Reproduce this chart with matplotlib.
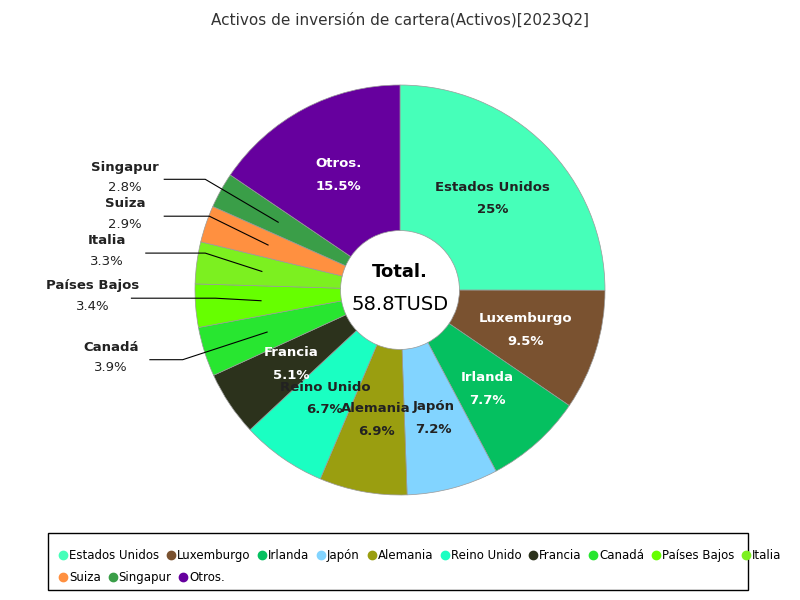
import matplotlib
matplotlib.use("Agg")
import matplotlib.pyplot as plt
import numpy as np
from matplotlib.lines import Line2D
from matplotlib.patches import Rectangle

categories = ["Estados Unidos", "Luxemburgo", "Irlanda", "Japón", "Alemania", "Reino Unido",
              "Francia", "Canadá", "Países Bajos", "Italia", "Suiza", "Singapur", "Otros."]
values = [25, 9.5, 7.7, 7.2, 6.9, 6.7, 5.1, 3.9, 3.4, 3.3, 2.9, 2.8, 15.5]
colors = ["#46ffb9", "#7a5230", "#05c060", "#82d4ff", "#9a9e10", "#1affc2", "#2c321c",
          "#28e630", "#66ff00", "#7cf020", "#ff9040", "#3a9e48", "#66009e"]
text_colors = ["#222", "white", "white", "#222", "#222", "#222", "white",
               None, None, None, None, None, "white"]
total_label = "58.8TUSD"
title = "Activos de inversión de cartera(Activos)[2023Q2]"

fig = plt.figure(figsize=(8, 6), dpi=100)
fig.text(0.5, 1 - 20/600, title, ha="center", va="center", fontsize=11, color="#333")
ax = fig.add_axes([400/800 - 205/800, 1 - (290 + 205)/600, 410/800, 410/600])
wedges, _ = ax.pie(values, colors=colors, startangle=90, counterclock=False, radius=1,
                   wedgeprops=dict(width=0.71, edgecolor="#999", linewidth=0.5))
ax.set_xlim(-1, 1); ax.set_ylim(-1, 1); ax.set_aspect("equal"); ax.axis("off")

# outside label layout: (text x, text y, elbow x) in data coords
outside = {11: (-1.34, 0.55, -0.95), 10: (-1.34, 0.37, -0.93), 9: (-1.43, 0.19, -0.95),
           8: (-1.50, -0.03, -0.90), 7: (-1.41, -0.33, -1.06)}
for i, w in enumerate(wedges):
    ang = np.deg2rad((w.theta1 + w.theta2) / 2)
    pct = f"{values[i]:g}%"
    if i in outside:
        tx, ty, ex = outside[i]
        r = 0.68
        px, py = r*np.cos(ang), r*np.sin(ang)
        ly = ty - 0.01
        ax.plot([tx + 0.19, ex, px], [ly, ly, py], color="black", lw=0.8, clip_on=False)
        ax.text(tx, ty + 0.05, categories[i], ha="center", va="center", fontsize=9.5,
                fontweight="bold", color="#222")
        ax.text(tx, ty - 0.05, pct, ha="center", va="center", fontsize=9.5, color="#222")
    else:
        r = 0.64
        x, y = r*np.cos(ang), r*np.sin(ang)
        ax.text(x, y + 0.05, categories[i], ha="center", va="center", fontsize=9.5,
                fontweight="bold", color=text_colors[i])
        ax.text(x, y - 0.06, pct, ha="center", va="center", fontsize=9.5,
                fontweight="bold", color=text_colors[i])

ax.text(0, 0.09, "Total.", ha="center", va="center", fontsize=13, fontweight="bold")
ax.text(0, -0.07, total_label, ha="center", va="center", fontsize=14)

# legend
fig.patches.append(Rectangle((48/800, 1 - 590/600), 700/800, 57/600, transform=fig.transFigure,
                             fill=False, edgecolor="black", lw=1))
handles = [Line2D([], [], marker="o", ls="", color=c, markersize=6) for c in colors]
def leg(idx, y):
    return fig.legend([handles[i] for i in idx], [categories[i] for i in idx],
                      loc="upper left", bbox_to_anchor=(52/800, 1 - y/600), ncol=len(idx),
                      frameon=False, fontsize=8.5, handletextpad=0.05, columnspacing=0.55,
                      borderpad=0, handlelength=0.9)
leg(list(range(10)), 543)
leg([10, 11, 12], 565)

fig.savefig("out.png", dpi=100)
